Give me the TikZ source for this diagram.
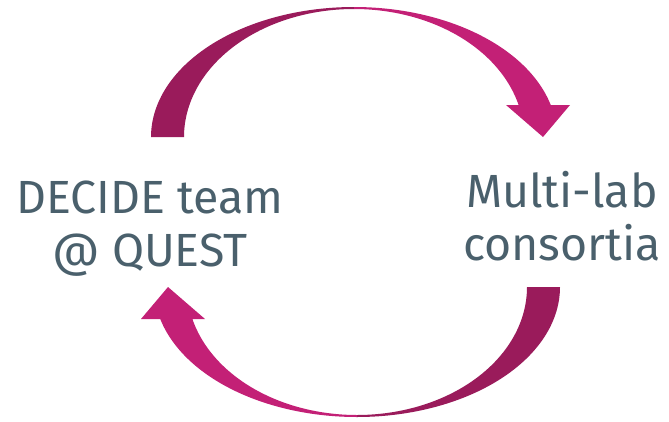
\documentclass[tikz,border=0pt]{standalone}
\usepackage{fontspec}
\setmainfont{Fira Sans}
\definecolor{arrdark}{RGB}{154,27,91}
\definecolor{arrlight}{RGB}{195,32,118}
\definecolor{txt}{RGB}{74,96,108}
\begin{document}
\begin{tikzpicture}[x=1pt,y=-1pt,
  lbl/.style={text=txt,font=\fontsize{46.5}{53}\selectfont,align=center,inner sep=0pt,anchor=base},
  darkpart/.style={fill=arrdark,draw=none},
  lightpart/.style={fill=arrlight,draw=none}]
\useasboundingbox (0,0) rectangle (669,421);
\def\cx{354}\def\cy{137}
\def\rxo{203}\def\ryo{130}
\def\rxi{170}\def\ryi{128}
\foreach \rot in {0,180}{
\begin{scope}[rotate around={\rot:(355.5,212)}]
  % start half (dark)
  \fill[darkpart]
    plot[domain=180:90,samples=60,smooth] ({\cx+\rxo*cos(\x)},{\cy-\ryo*sin(\x)})
    -- plot[domain=90:180,samples=60,smooth] ({\cx+\rxi*cos(\x)},{\cy-\ryi*sin(\x)})
    -- cycle;
  % end half with head (light)
  \fill[lightpart]
    plot[domain=90:14.25,samples=60,smooth] ({\cx+\rxo*cos(\x)},{\cy-\ryo*sin(\x)})
    -- (570,105) -- (543,137) -- (506,105)
    -- plot[domain=14.48:90,samples=60,smooth] ({\cx+\rxi*cos(\x)},{\cy-\ryi*sin(\x)})
    -- cycle;
\end{scope}}
\node[lbl] (decide) at (150,266) {DECIDE team\\@ QUEST};
\node[lbl] (multi) at (562,260) {Multi-lab\\consortia};
\end{tikzpicture}
\end{document}
